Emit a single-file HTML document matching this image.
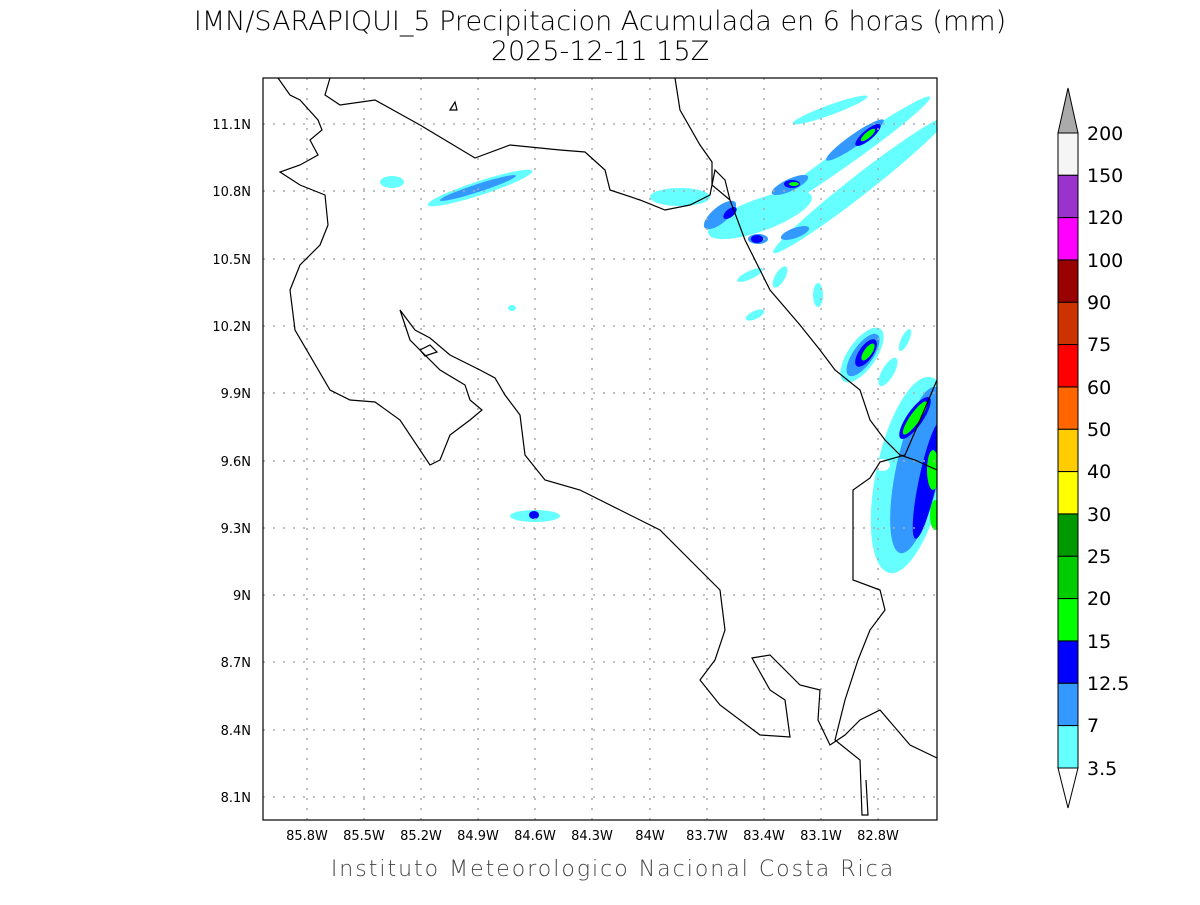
<!DOCTYPE html>
<html><head><meta charset="utf-8"><style>
body{margin:0;background:#fff}
svg text{font-family:"DejaVu Sans","Liberation Sans",sans-serif}
</style></head><body>
<svg width="1200" height="900" viewBox="0 0 1200 900" xmlns="http://www.w3.org/2000/svg">
<rect width="1200" height="900" fill="#fff"/>
<text x="600" y="30" font-size="27" text-anchor="middle" fill="#000" font-weight="300">IMN/SARAPIQUI_5 Precipitacion Acumulada en 6 horas (mm)</text>
<text x="600" y="60" font-size="27" text-anchor="middle" fill="#000" font-weight="300">2025-12-11 15Z</text>
<defs><clipPath id="c"><rect x="263" y="78" width="674" height="742"/></clipPath></defs>
<g clip-path="url(#c)">
<g fill="#66ffff">
<ellipse cx="392" cy="182" rx="12" ry="6"/>
<ellipse cx="480" cy="188" rx="55" ry="7" transform="rotate(-18 480 188)"/>
<ellipse cx="680" cy="197" rx="30" ry="9"/>
<ellipse cx="840" cy="160" rx="110" ry="9" transform="rotate(-35 840 160)"/>
<ellipse cx="860" cy="185" rx="110" ry="10" transform="rotate(-38 860 185)"/>
<ellipse cx="760" cy="215" rx="55" ry="16" transform="rotate(-20 760 215)"/>
<ellipse cx="830" cy="110" rx="40" ry="5" transform="rotate(-20 830 110)"/>
<ellipse cx="750" cy="275" rx="14" ry="4" transform="rotate(-25 750 275)"/>
<ellipse cx="780" cy="277" rx="5" ry="12" transform="rotate(30 780 277)"/>
<ellipse cx="818" cy="295" rx="5" ry="12"/>
<ellipse cx="755" cy="315" rx="10" ry="4" transform="rotate(-25 755 315)"/>
<ellipse cx="862" cy="355" rx="14" ry="32" transform="rotate(35 862 355)"/>
<ellipse cx="905" cy="340" rx="4" ry="12" transform="rotate(25 905 340)"/>
<ellipse cx="888" cy="372" rx="6" ry="16" transform="rotate(30 888 372)"/>
<ellipse cx="910" cy="475" rx="34" ry="100" transform="rotate(12 910 475)"/>
<ellipse cx="535" cy="516" rx="25" ry="6"/>
<ellipse cx="512" cy="308" rx="4" ry="3"/>
</g>
<g fill="#3399ff">
<ellipse cx="720" cy="215" rx="20" ry="8" transform="rotate(-40 720 215)"/>
<ellipse cx="790" cy="185" rx="20" ry="6" transform="rotate(-25 790 185)"/>
<ellipse cx="855" cy="140" rx="35" ry="6" transform="rotate(-35 855 140)"/>
<ellipse cx="758" cy="239" rx="10" ry="5"/>
<ellipse cx="795" cy="233" rx="15" ry="5" transform="rotate(-20 795 233)"/>
<ellipse cx="863" cy="355" rx="10" ry="25" transform="rotate(35 863 355)"/>
<ellipse cx="918" cy="470" rx="22" ry="85" transform="rotate(12 918 470)"/>
<ellipse cx="478" cy="188" rx="40" ry="4" transform="rotate(-18 478 188)"/>
</g>
<g fill="#0000ff">
<ellipse cx="868" cy="135" rx="16" ry="5" transform="rotate(-40 868 135)"/>
<ellipse cx="792" cy="184" rx="8" ry="4"/>
<ellipse cx="757" cy="239" rx="6" ry="4"/>
<ellipse cx="730" cy="213" rx="8" ry="4" transform="rotate(-40 730 213)"/>
<ellipse cx="866" cy="353" rx="7" ry="16" transform="rotate(35 866 353)"/>
<ellipse cx="915" cy="418" rx="8" ry="25" transform="rotate(35 915 418)"/>
<ellipse cx="928" cy="480" rx="9" ry="60" transform="rotate(12 928 480)"/>
<ellipse cx="534" cy="515" rx="5" ry="4"/>
</g>
<g fill="#00ff00">
<ellipse cx="868" cy="135" rx="9" ry="3" transform="rotate(-40 868 135)"/>
<ellipse cx="794" cy="184" rx="5" ry="2"/>
<ellipse cx="868" cy="352" rx="4" ry="10" transform="rotate(35 868 352)"/>
<ellipse cx="915" cy="418" rx="5" ry="20" transform="rotate(35 915 418)"/>
<ellipse cx="933" cy="470" rx="6" ry="20"/>
<ellipse cx="935" cy="515" rx="5" ry="15"/>
</g>
<ellipse cx="882" cy="465" rx="8" ry="6" fill="#fff"/>
<g stroke="#aaa" stroke-width="1.5" stroke-dasharray="2,8">
<line x1="307" y1="78" x2="307" y2="820"/><line x1="364" y1="78" x2="364" y2="820"/><line x1="421" y1="78" x2="421" y2="820"/><line x1="478" y1="78" x2="478" y2="820"/><line x1="535" y1="78" x2="535" y2="820"/><line x1="592" y1="78" x2="592" y2="820"/><line x1="650" y1="78" x2="650" y2="820"/><line x1="707" y1="78" x2="707" y2="820"/><line x1="764" y1="78" x2="764" y2="820"/><line x1="821" y1="78" x2="821" y2="820"/><line x1="878" y1="78" x2="878" y2="820"/>
<line x1="263" y1="124" x2="937" y2="124"/><line x1="263" y1="191" x2="937" y2="191"/><line x1="263" y1="259" x2="937" y2="259"/><line x1="263" y1="326" x2="937" y2="326"/><line x1="263" y1="393" x2="937" y2="393"/><line x1="263" y1="461" x2="937" y2="461"/><line x1="263" y1="528" x2="937" y2="528"/><line x1="263" y1="595" x2="937" y2="595"/><line x1="263" y1="662" x2="937" y2="662"/><line x1="263" y1="730" x2="937" y2="730"/><line x1="263" y1="797" x2="937" y2="797"/>
</g>
<g fill="none" stroke="#000" stroke-width="1.2">
<polyline points="278,78 290,95 300,100 318,120 322,130 310,140 318,155 300,165 280,172 300,185 325,195 328,225 320,245 300,265 290,290 295,330 330,390 350,400 375,402 400,420 430,465 440,460 450,435 470,420 482,410 470,400 465,385 440,370 410,340 400,310 415,330 430,338 450,355 480,370 495,378 505,395 520,415 525,455 545,480 580,490 620,510 660,530 700,570 720,590 725,630 715,660 700,680 720,705 760,735 790,737 785,700 770,690 752,658 770,655 800,685 820,690 818,720 830,745 845,735 860,720 880,710 910,745 937,758"/>
<polyline points="330,78 325,95 340,105 375,100 420,125 475,158 510,145 560,150 585,152 605,170 610,190 640,200 665,210 690,205 710,195 715,170 725,180 730,200 745,240 770,290 800,325 820,350 835,370 860,390 870,420 885,440 900,455 915,460 937,470"/>
<polyline points="675,78 680,110 700,145 712,162 712,185 730,200"/>
<polyline points="937,380 920,420 905,455 880,462 870,478 853,490 853,580 880,590 885,610 870,630 858,660 845,700 835,740 860,760 862,815 868,815 866,780"/>
<polygon points="420,350 430,345 437,352 425,356"/>
<polygon points="450,110 455,102 457,110"/>
</g>
</g>
<rect x="263" y="78" width="674" height="742" fill="none" stroke="#000" stroke-width="1.2"/>
<g font-size="13" fill="#000" text-anchor="end">
<text x="251" y="129">11.1N</text><text x="251" y="196">10.8N</text><text x="251" y="264">10.5N</text><text x="251" y="331">10.2N</text><text x="251" y="398">9.9N</text><text x="251" y="466">9.6N</text><text x="251" y="533">9.3N</text><text x="251" y="600">9N</text><text x="251" y="667">8.7N</text><text x="251" y="735">8.4N</text><text x="251" y="802">8.1N</text>
</g>
<g font-size="13" fill="#000" text-anchor="middle">
<text x="307" y="840">85.8W</text><text x="364" y="840">85.5W</text><text x="421" y="840">85.2W</text><text x="478" y="840">84.9W</text><text x="535" y="840">84.6W</text><text x="592" y="840">84.3W</text><text x="650" y="840">84W</text><text x="707" y="840">83.7W</text><text x="764" y="840">83.4W</text><text x="821" y="840">83.1W</text><text x="878" y="840">82.8W</text>
</g>
<text x="613" y="876" font-size="22" text-anchor="middle" fill="#444" font-weight="300" letter-spacing="2">Instituto Meteorologico Nacional Costa Rica</text>
<g stroke="#000" stroke-width="1">
<polygon points="1058,133 1078,133 1068,88" fill="#aaa"/>
<rect x="1058" y="133" width="20" height="42.3" fill="#f5f5f5"/>
<rect x="1058" y="175.3" width="20" height="42.3" fill="#9933cc"/>
<rect x="1058" y="217.6" width="20" height="42.3" fill="#ff00ff"/>
<rect x="1058" y="260" width="20" height="42.3" fill="#990000"/>
<rect x="1058" y="302.3" width="20" height="42.3" fill="#cc3300"/>
<rect x="1058" y="344.6" width="20" height="42.3" fill="#ff0000"/>
<rect x="1058" y="387" width="20" height="42.3" fill="#ff6600"/>
<rect x="1058" y="429.3" width="20" height="42.3" fill="#ffcc00"/>
<rect x="1058" y="471.6" width="20" height="42.3" fill="#ffff00"/>
<rect x="1058" y="514" width="20" height="42.3" fill="#009900"/>
<rect x="1058" y="556.3" width="20" height="42.3" fill="#00cc00"/>
<rect x="1058" y="598.6" width="20" height="42.3" fill="#00ff00"/>
<rect x="1058" y="641" width="20" height="42.3" fill="#0000ff"/>
<rect x="1058" y="683.3" width="20" height="42.3" fill="#3399ff"/>
<rect x="1058" y="725.6" width="20" height="42.4" fill="#66ffff"/>
<polygon points="1058,768 1078,768 1068,808" fill="#fff"/>
</g>
<g font-size="19" fill="#000">
<text x="1087" y="140">200</text><text x="1087" y="182">150</text><text x="1087" y="224">120</text><text x="1087" y="267">100</text><text x="1087" y="309">90</text><text x="1087" y="351">75</text><text x="1087" y="394">60</text><text x="1087" y="436">50</text><text x="1087" y="478">40</text><text x="1087" y="521">30</text><text x="1087" y="563">25</text><text x="1087" y="605">20</text><text x="1087" y="648">15</text><text x="1087" y="690">12.5</text><text x="1087" y="732">7</text><text x="1087" y="775">3.5</text>
</g>
</svg>
</body></html>
